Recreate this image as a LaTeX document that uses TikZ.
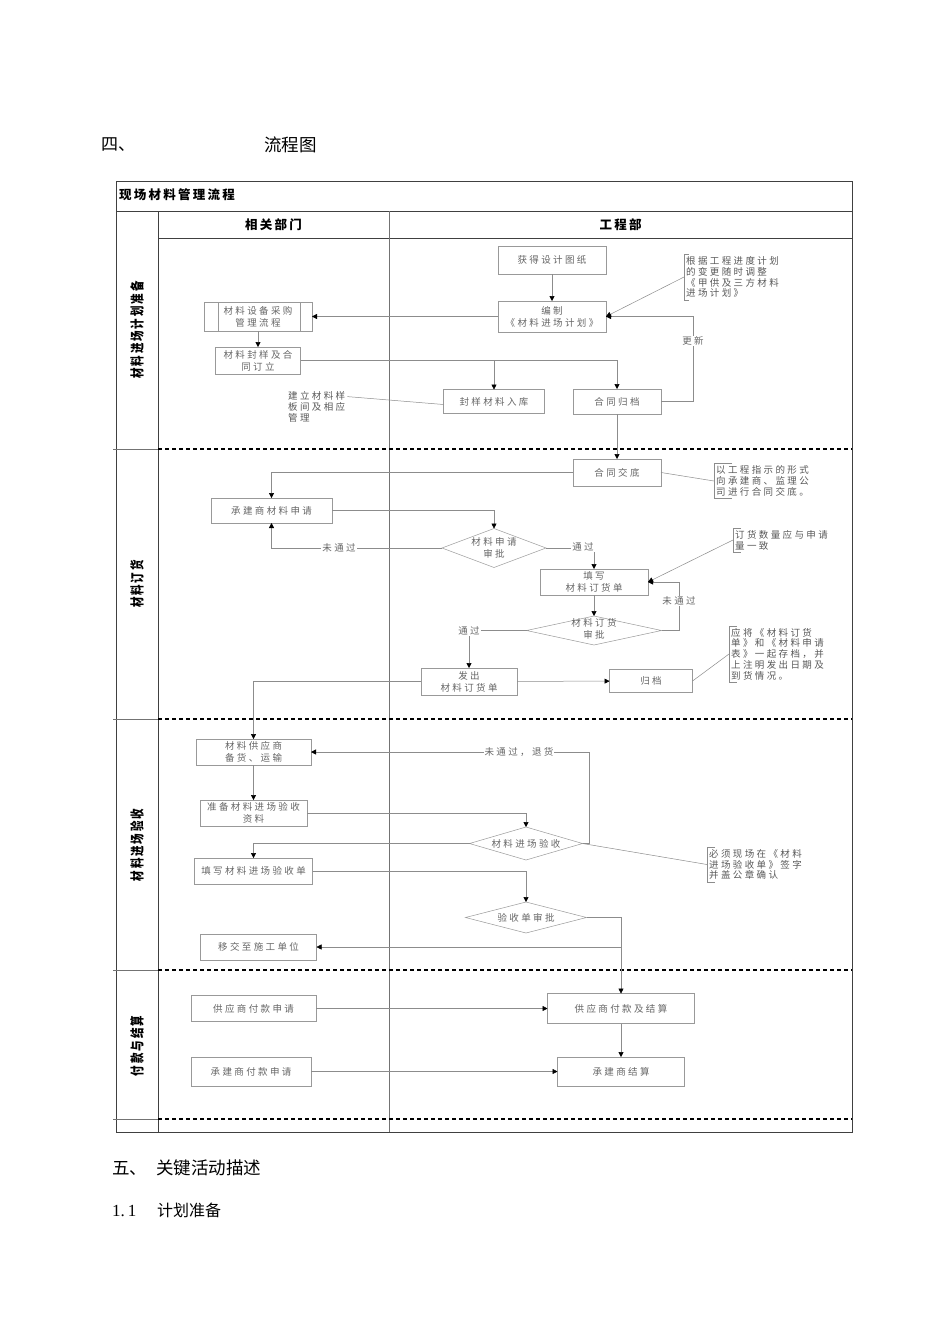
\documentclass[tikz,border=0pt]{standalone}
\usepackage{fontspec}
\setmainfont{Liberation Serif}
\newfontfamily\cjk{Noto Sans CJK SC}
\newfontfamily\cjkls[LetterSpace=25]{Noto Sans CJK SC}
\newfontfamily\cjkhd[LetterSpace=18]{Noto Sans CJK SC}
\newcommand\boxfont{\cjkls\fontsize{9.5}{12}\selectfont}
\newcommand\notefont{\cjkls\fontsize{9.5}{10.8}\selectfont}
\usetikzlibrary{arrows.meta,shapes.geometric}
\begin{document}
\begin{tikzpicture}[x=1pt,y=-1pt,
  ln/.style={draw=black!45,line width=0.5pt},
  arr/.style={ln,-{Triangle[length=5pt,width=5pt,color=black]}},
  box/.style={draw=black!40,line width=0.5pt,text=black!60,font=\boxfont,align=center,inner sep=0pt,outer sep=0pt},
  dia/.style={diamond,draw=black!40,line width=0.5pt,inner sep=0pt,outer sep=0pt},
  dtext/.style={text=black!60,font=\boxfont,align=center,inner sep=0pt},
  note/.style={text=black!65,font=\notefont,align=left,inner sep=2pt,anchor=west},
  lbl/.style={text=black!60,font=\boxfont,fill=white,inner sep=1pt},
  frame/.style={draw=black!75,line width=0.7pt},
  thin/.style={draw=black!55,line width=0.5pt},
  sep/.style={draw=black,line width=1.3pt,dash pattern=on 4pt off 3pt},
  lane/.style={rotate=90,font=\cjkhd\bfseries\fontsize{14}{14}\selectfont,inner sep=0pt},
  head/.style={font=\cjkhd\bfseries\fontsize{12.5}{12.5}\selectfont,inner sep=0pt}]
\useasboundingbox (0,0) rectangle (950,1344);
\fill[white] (0,0) rectangle (950,1344);

% page headings
\node[anchor=west,inner sep=0pt,font=\cjk\fontsize{17}{17}\selectfont] (h4a) at (101,145) {四、};
\node[anchor=west,inner sep=0pt,font=\cjk\fontsize{17.5}{17.5}\selectfont] (h4b) at (264,145) {流程图};
\node[anchor=west,inner sep=0pt,font=\cjk\fontsize{17.5}{17.5}\selectfont] (h5) at (112,1168) {五、\hspace{9pt}关键活动描述};
\node[anchor=west,inner sep=0pt,font=\fontsize{17}{17}\selectfont] (h11) at (112,1211) {1.\,1};
\node[anchor=west,inner sep=0pt,font=\cjk\fontsize{16}{16}\selectfont] (h11b) at (157,1210) {计划准备};

% frame
\draw[frame] (116,181) rectangle (852,1132);
\draw[frame] (116,211) -- (852,211);
\draw[frame] (158,238) -- (852,238);
\draw[frame] (158,211) -- (158,1132);
\draw[thin] (389,211) -- (389,1132);
\foreach \yy in {449,719,970,1119}{
  \draw[thin] (113,\yy) -- (158,\yy);
  \draw[sep] (158,\yy) -- (852,\yy);
}
\node[head,anchor=west] (title) at (119,195) {现场材料管理流程};
\node[head] (hd1) at (273.5,224.5) {相关部门};
\node[head] (hd2) at (620.5,224.5) {工程部};
\node[lane] (l1) at (137,330) {\scalebox{0.75}[1]{材料进场计划准备}};
\node[lane] (l2) at (137,584) {\scalebox{0.75}[1]{材料订货}};
\node[lane] (l3) at (137,845) {\scalebox{0.75}[1]{材料进场验收}};
\node[lane] (l4) at (137,1046) {\scalebox{0.75}[1]{付款与结算}};

% ---- section 1
\node[box,minimum width=108,minimum height=28] (get) at (552,260) {获得设计图纸};
\node[box,minimum width=108,minimum height=31] (plan) at (552,316.5) {编制\\《材料进场计划》};
\node[box,minimum width=108,minimum height=29] (proc) at (258,316.5) {材料设备采购\\管理流程};
\draw[draw=black!40,line width=0.5pt] ([xshift=14pt]proc.north west) -- ([xshift=14pt]proc.south west)
  ([xshift=-12pt]proc.north east) -- ([xshift=-12pt]proc.south east);
\node[box,minimum width=85,minimum height=27] (seal) at (258,360.5) {材料封样及合\\同订立};
\node[box,minimum width=101,minimum height=24] (store) at (494,401.5) {封样材料入库};
\node[box,minimum width=88,minimum height=25] (arch) at (617,401.5) {合同归档};
\node[note] (n1) at (684,277) {根据工程进度计划\\的变更随时调整\\《甲供及三方材料\\进场计划》};
\draw[ln] ([xshift=5pt]n1.north west) -| (n1.south west) -- ++(5,0);
\node[note] (n6) at (286,407) {建立材料样\\板间及相应\\管理};

\draw[arr] (get) -- (plan);
\draw[arr] (plan) -- (proc);
\draw[arr] (proc) -- (seal);
\draw[arr] (seal.east) -| (arch.north);
\draw[arr] (store.north |- seal.east) -- (store.north);
\draw[ln] ([yshift=-7pt]n6.north east) -- ([yshift=-3pt]store.west);
\coordinate (u1) at (693,401.5);
\draw[arr] (arch.east) -- (u1) |- (plan.east);
\node[lbl] (upd) at (693,341) {更新};
\draw[arr] (n1.west) -- (plan.east);

% ---- section 2
\node[box,minimum width=88,minimum height=27] (jd) at (617,472.5) {合同交底};
\node[note] (n2) at (714,481) {以工程指示的形式\\向承建商、监理公\\司进行合同交底。};
\draw[ln] ([xshift=18pt]n2.north west) -| (n2.south west) -- ++(18,0);
\node[box,minimum width=121,minimum height=25] (apply) at (271.5,510.5) {承建商材料申请};
\node[dia,minimum width=104,minimum height=39] (d1) at (494,548) {};
\node[dtext] (d1t) at (494,548) {材料申请\\审批};
\node[box,minimum width=108,minimum height=26] (fill) at (594,582) {填写\\材料订货单};
\node[note] (n3) at (733,540) {订货数量应与申请\\量一致};
\draw[ln] ([xshift=8pt]n3.north west) -| (n3.south west) -- ++(8,0);
\node[dia,minimum width=135,minimum height=29] (d2) at (594,630.5) {};
\node[dtext] (d2t) at (594,628.5) {材料订货\\审批};
\node[box,minimum width=96,minimum height=27] (issue) at (469,681.5) {发出\\材料订货单};
\node[box,minimum width=83,minimum height=23] (file) at (651,681) {归档};
\node[note] (n4) at (729,654) {应将《材料订货\\单》和《材料申请\\表》一起存档，并\\上注明发出日期及\\到货情况。};
\draw[ln] ([xshift=8pt]n4.north west) -| (n4.south west) -- ++(8,0);

\draw[arr] (arch) -- (jd);
\draw[arr] (jd.west) -| (apply.north);
\draw[ln] (jd.east) -- (n2.west);
\draw[arr] (apply.east) -| (d1.north);
\draw[arr] (d1.west) -| (apply.south);
\node[lbl] (nt1) at (339,548) {未通过};
\draw[arr] (d1.east) -| (fill.north);
\node[lbl] (pt1) at (583,547) {通过};
\draw[arr] (fill) -- (d2);
\coordinate (u2) at (679,630.5);
\draw[arr] (d2.east) -- (u2) |- (fill.east);
\node[lbl] (nt2) at (679,601) {未通过};
\draw[arr] (n3.west) -- (fill.east);
\draw[arr] (d2.west) -| (issue.north);
\node[lbl] (pt2) at (469,630.5) {通过};
\draw[arr] (issue) -- (file);
\draw[ln] (file.east) -- (n4.west);

% ---- section 3
\node[box,minimum width=115,minimum height=26] (sup) at (253.5,752) {材料供应商\\备货、运输};
\node[box,minimum width=107,minimum height=26] (prep) at (253.5,813) {准备材料进场验收\\资料};
\node[dia,minimum width=113,minimum height=33] (d3) at (526,843.5) {};
\node[dtext] (d3t) at (526,843.5) {材料进场验收};
\node[box,minimum width=118,minimum height=26] (accf) at (253.5,871) {填写材料进场验收单};
\node[note] (n5) at (707,864.5) {必须现场在《材料\\进场验收单》签字\\并盖公章确认};
\draw[ln] ([xshift=8pt]n5.north west) -| (n5.south west) -- ++(8,0);
\node[dia,minimum width=121,minimum height=31] (d4) at (526,917.5) {};
\node[dtext] (d4t) at (526,917.5) {验收单审批};
\node[box,minimum width=116,minimum height=26] (hand) at (258.5,947) {移交至施工单位};

\draw[arr] (issue.west) -| (sup.north);
\draw[arr] (sup) -- (prep);
\draw[arr] (prep.east) -| (d3.north);
\draw[arr] (d3.west) -| (accf.north);
\coordinate (u3) at (589,843.5);
\draw[arr] (d3.east) -- (u3) |- (sup.east);
\node[lbl] (nt3) at (519,752) {未通过，退货};
\draw[ln] (d3.east) -- (n5.west);
\draw[arr] (accf.east) -| (d4.north);

% ---- section 4
\node[box,minimum width=125,minimum height=26] (pay1) at (253.5,1008.5) {供应商付款申请};
\node[box,minimum width=147,minimum height=30] (set1) at (621,1008.5) {供应商付款及结算};
\node[box,minimum width=120,minimum height=29] (pay2) at (251,1071.5) {承建商付款申请};
\node[box,minimum width=127,minimum height=29] (set2) at (621,1071.5) {承建商结算};

\draw[arr] (d4.east) -| (set1.north);
\draw[arr] (set1.north |- hand.east) -- (hand.east);
\draw[arr] (pay1) -- (set1);
\draw[arr] (set1) -- (set2);
\draw[arr] (pay2) -- (set2);
\end{tikzpicture}
\end{document}
